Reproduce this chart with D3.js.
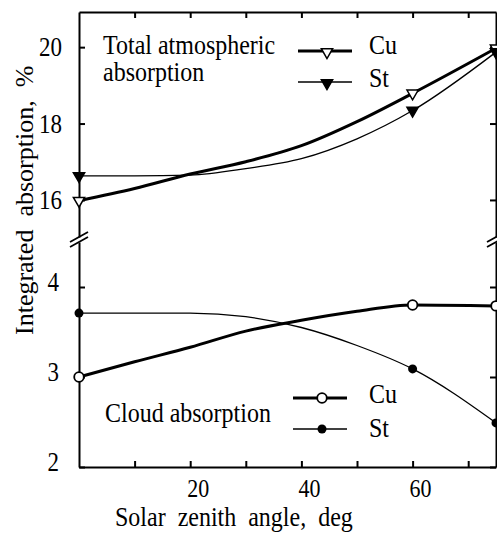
<!DOCTYPE html>
<html>
<head>
<meta charset="utf-8">
<script src="https://cdn.jsdelivr.net/npm/d3@7"></script>
<style>
  body { margin: 0; background: #fff; }
  svg { display: block; }
</style>
</head>
<body>
<svg id="chart" width="497" height="533"></svg>
<script>
// solar zenith angle, deg
let angles = [0, 10, 20, 30, 40, 50, 60, 75];
let markedAngles = [0, 60, 75];

// total atmospheric absorption, %
let totalCu = [15.98, 16.3, 16.68, 17.0, 17.42, 18.05, 18.79, 19.97];
let totalSt = [16.63, 16.63, 16.65, 16.82, 17.08, 17.6, 18.34, 19.87];

// cloud absorption, %
let cloudCu = [3.0, 3.17, 3.33, 3.51, 3.63, 3.73, 3.80, 3.79];
let cloudSt = [3.71, 3.71, 3.71, 3.67, 3.55, 3.35, 3.09, 2.49];

let xTicks = [10, 20, 30, 40, 50, 60, 70];
let xLabels = [20, 40, 60];
let yTopTicks = [16, 18, 20];
let yBotTicks = [2, 3, 4];

let font = '"Liberation Serif", "Times New Roman", Times, "DejaVu Serif", serif';

let svg = d3.select('#chart');
let sy = 1.18;  // glyphs in the scan are taller than wide

let mLeft = 79, mRight = 496, mTop = 12, mBottom = 467;
let breakTop = 237, breakBot = 242;

let x = d3.scaleLinear().domain([0, 75]).range([mLeft, mRight]);
let yTop = d3.scaleLinear().domain([15.03, 20.92]).range([breakTop, mTop]);
let yBot = d3.scaleLinear().domain([2, 4.5]).range([mBottom, breakBot]);

function txt(str, tx, ty, size, anchor) {
	return svg.append('text')
		.attr('transform', `translate(${tx},${ty}) scale(1,${sy})`)
		.attr('font-family', font)
		.attr('font-size', size)
		.attr('text-anchor', anchor || 'start')
		.style('white-space', 'pre')
		.text(str);
}

function styleAxis(g) {
	g.selectAll('path, line').attr('stroke', '#000').attr('stroke-width', 2);
	g.selectAll('text').remove();
}

// frame axes
svg.append('g').attr('transform', `translate(0,${mTop})`)
	.call(d3.axisTop(x).tickValues(xTicks).tickSizeInner(-6).tickSizeOuter(0)).call(styleAxis);
svg.append('g').attr('transform', `translate(0,${mBottom})`)
	.call(d3.axisBottom(x).tickValues(xTicks).tickSizeInner(-6).tickSizeOuter(0)).call(styleAxis);
[mLeft, mRight].forEach(function(px) {
	let ax = px === mLeft ? d3.axisLeft : d3.axisRight;
	svg.append('g').attr('transform', `translate(${px},0)`)
		.call(ax(yTop).tickValues(yTopTicks).tickSizeInner(-6).tickSizeOuter(0)).call(styleAxis);
	svg.append('g').attr('transform', `translate(${px},0)`)
		.call(ax(yBot).tickValues(yBotTicks).tickSizeInner(-6).tickSizeOuter(0)).call(styleAxis);
	// break marks
	[breakTop, breakBot].forEach(function(by) {
		svg.append('line')
			.attr('x1', px - 9).attr('y1', by + 5)
			.attr('x2', px + 9).attr('y2', by - 5)
			.attr('stroke', '#000').attr('stroke-width', 1.8);
	});
});

// tick labels
xLabels.forEach(function(v) { txt(String(v), x(v) + 8, 497, 22, 'middle'); });
yTopTicks.forEach(function(v) { txt(String(v), 62, yTop(v) + 9, 23, 'end'); });
yBotTicks.forEach(function(v) { txt(String(v), 59, yBot(v) + 4, 23, 'end'); });

// axis titles
txt('Solar  zenith  angle,  deg', 115, 526, 24, 'start');
svg.append('text')
	.attr('transform', 'translate(33,335) rotate(-90)')
	.attr('font-family', font)
	.attr('font-size', 26)
	.style('white-space', 'pre')
	.text('Integrated  absorption,  %');

// series
let series = [
	{ vals: totalCu, y: yTop, width: 3, mark: 'tri', fill: '#fff' },
	{ vals: totalSt, y: yTop, width: 1.3, mark: 'tri', fill: '#000' },
	{ vals: cloudCu, y: yBot, width: 3, mark: 'circ', fill: '#fff' },
	{ vals: cloudSt, y: yBot, width: 1.3, mark: 'dot', fill: '#000' }
];

let triangle = d3.symbol().type(d3.symbolTriangle).size(55);

function drawMark(g, m, fill, cx, cy) {
	if (m === 'tri') {
		g.append('path').attr('d', triangle())
			.attr('transform', `translate(${cx},${cy}) rotate(180)`)
			.attr('fill', fill).attr('stroke', '#000').attr('stroke-width', 1.5);
	} else if (m === 'circ') {
		g.append('circle').attr('cx', cx).attr('cy', cy).attr('r', 4.8)
			.attr('fill', fill).attr('stroke', '#000').attr('stroke-width', 1.8);
	} else {
		g.append('circle').attr('cx', cx).attr('cy', cy).attr('r', 4.5)
			.attr('fill', fill);
	}
}

series.forEach(function(s) {
	let pts = angles.map((a, i) => [a, s.vals[i]]);
	let line = d3.line()
		.x(d => x(d[0]))
		.y(d => s.y(d[1]))
		.curve(d3.curveMonotoneX);
	svg.append('path').datum(pts)
		.attr('fill', 'none').attr('stroke', '#000')
		.attr('stroke-width', s.width).attr('d', line);
	let g = svg.append('g');
	pts.filter(d => markedAngles.includes(d[0])).forEach(function(d) {
		drawMark(g, s.mark, s.fill, x(d[0]), s.y(d[1]));
	});
});

// panel captions
txt('Total atmospheric', 103, 54, 24);
txt('absorption', 103, 81, 24);
txt('Cloud absorption', 105, 422, 24);

// legends
function legendRow(lx, ly, s, label, ty) {
	svg.append('line').attr('x1', lx).attr('x2', lx + 54)
		.attr('y1', ly).attr('y2', ly)
		.attr('stroke', '#000').attr('stroke-width', s.width);
	drawMark(svg, s.mark, s.fill, lx + 29, ly + (s.mark === 'tri' ? 1 : 0));
	txt(label, 369, ty, 24);
}
legendRow(298, 51, series[0], 'Cu', 54);
legendRow(298, 82, series[1], 'St', 87);
legendRow(293, 398, series[2], 'Cu', 403);
legendRow(293, 429, series[3], 'St', 437);
</script>
</body>
</html>
